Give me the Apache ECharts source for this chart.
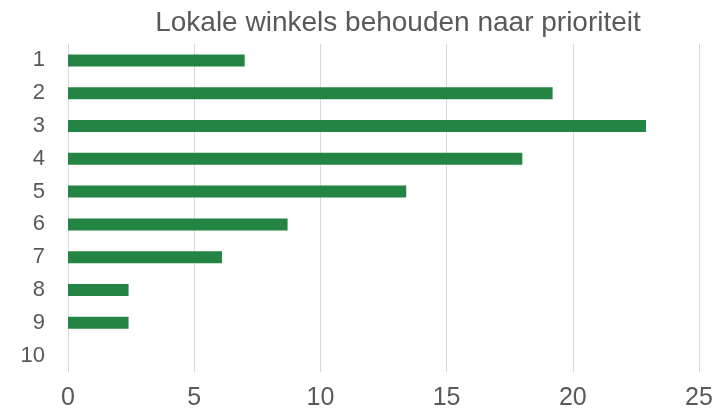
<!DOCTYPE html>
<html>
<head>
<meta charset="utf-8">
<script src="https://cdn.jsdelivr.net/npm/echarts@6/dist/echarts.min.js"></script>
<style>
  html, body { margin: 0; padding: 0; background: #fff; }
  #chart { width: 718px; height: 411px; }
</style>
</head>
<body>
<div id="chart"></div>
<script>
// categories, top to bottom
const categories = ["1", "2", "3", "4", "5", "6", "7", "8", "9", "10"];
const values = [7.0, 19.2, 22.9, 18.0, 13.4, 8.7, 6.1, 2.4, 2.4, 0];

const chart = echarts.init(document.getElementById("chart"));
chart.setOption({
  animation: false,
  title: {
    text: "Lokale winkels behouden naar prioriteit",
    left: 393,
    textAlign: "center",
    top: 4,
    textStyle: {
      fontFamily: "Liberation Sans",
      fontSize: 28,
      fontWeight: "normal",
      color: "#595959",
    },
  },
  grid: {
    left: 68,
    right: 19,
    top: 44,
    bottom: 39,
  },
  xAxis: {
    type: "value",
    min: 0,
    max: 25,
    interval: 5,
    axisLine: { show: false },
    axisTick: { show: false },
    axisLabel: {
      margin: 14,
      fontFamily: "Liberation Sans Narrow, Liberation Sans",
      fontSize: 25,
      color: "#595959",
    },
    splitLine: { lineStyle: { color: "#d9d9d9", width: 1 } },
  },
  yAxis: {
    type: "category",
    data: categories,
    inverse: true,
    axisLine: { show: false },
    axisTick: { show: false },
    axisLabel: {
      margin: 23,
      fontFamily: "Liberation Sans Narrow, Liberation Sans",
      fontSize: 22,
      color: "#595959",
    },
  },
  series: [
    {
      type: "bar",
      data: values,
      barWidth: 12,
      itemStyle: { color: "#238443" },
    },
  ],
});
</script>
</body>
</html>
